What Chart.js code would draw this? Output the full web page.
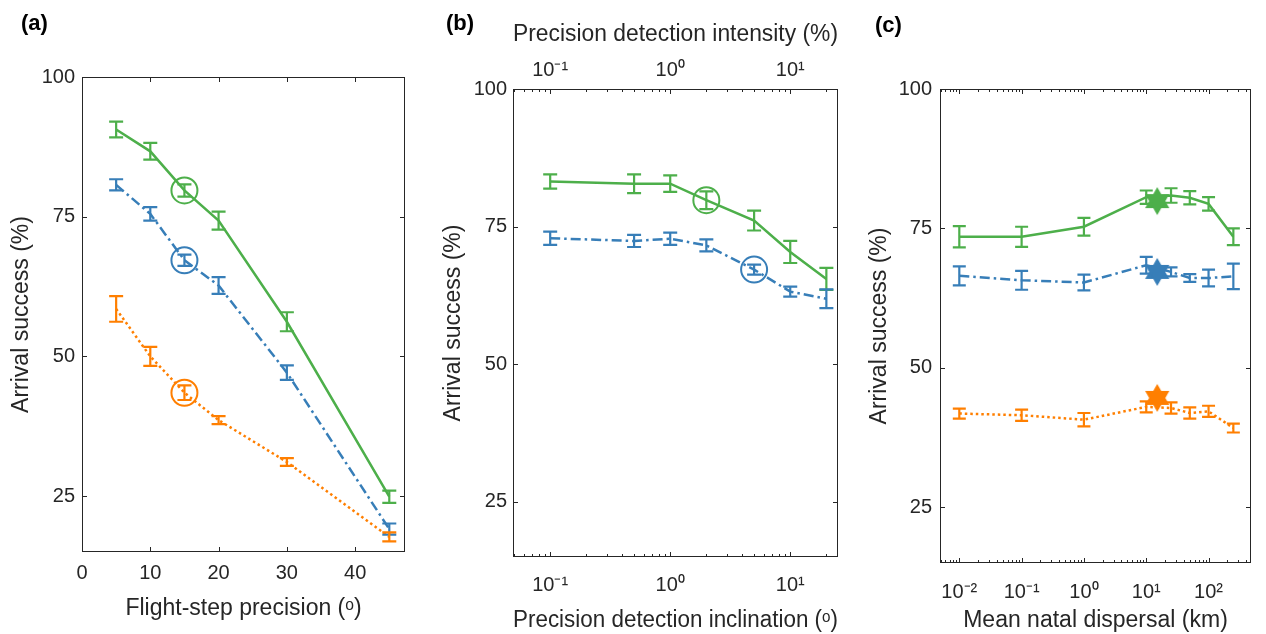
<!DOCTYPE html>
<html>
<head>
<meta charset="utf-8">
<script src="https://cdn.jsdelivr.net/npm/chart.js@4.4.1/dist/chart.umd.min.js"></script>
<style>
  body { margin: 0; background: #fff; }
  #wrap { position: relative; width: 1266px; height: 634px; overflow: hidden; }
  canvas { position: absolute; top: 0; }
  .tag { position: absolute; font: bold 22px "Liberation Sans", Arial, sans-serif; line-height: 22px; color: #000; }
</style>
</head>
<body>
<div id="wrap">
  <canvas id="chartA" width="420" height="634" style="left:0px"></canvas>
  <canvas id="chartB" width="430" height="634" style="left:425px"></canvas>
  <canvas id="chartC" width="406" height="634" style="left:860px"></canvas>
  <div class="tag" style="left:21px;top:12px">(a)</div>
  <div class="tag" style="left:446px;top:12px">(b)</div>
  <div class="tag" style="left:875px;top:14px">(c)</div>
</div>
<script>
// ---- (a) flight-step precision ----
const precA = [5, 10, 15, 20, 30, 45];
const greenA = [90.6, 86.7, 79.7, 74.3, 56.2, 24.9];
const greenErrA = [1.4, 1.5, 1.1, 1.6, 1.7, 1.1];
const blueA = [80.7, 75.5, 67.2, 62.7, 47.1, 19.1];
const blueErrA = [1.0, 1.2, 1.0, 1.5, 1.3, 1.0];
const orangeA = [58.5, 50.0, 43.5, 38.6, 31.1, 17.7];
const orangeErrA = [2.3, 1.7, 1.3, 0.7, 0.7, 0.8];
const circleIdxA = 2; // x = 15, circled default
const xTicksA = [0, 10, 20, 30, 40];

// ---- (b) precision detection inclination / intensity ----
const inclB = [0.1, 0.5, 1, 2, 5, 10, 20];
const greenB = [83.2, 82.8, 82.8, 79.8, 76.1, 70.4, 65.5];
const greenErrB = [1.3, 1.7, 1.5, 1.6, 1.8, 2.0, 2.0];
const blueB = [72.9, 72.4, 72.8, 71.6, 67.2, 63.2, 61.9];
const blueErrB = [1.2, 1.1, 1.1, 1.1, 0.9, 0.9, 1.7];
const circleGreenIdxB = 3; // x = 2
const circleBlueIdxB = 4;  // x = 5
const xTicksB = [0.1, 1, 10];
const xLabelsB = ['10⁻¹', '10⁰', '10¹'];

// ---- (c) mean natal dispersal ----
const dispC = [0.01, 0.1, 1, 10, 25, 50, 100, 250];
const greenC = [73.5, 73.5, 75.3, 80.6, 80.9, 80.5, 79.4, 73.5];
const greenErrC = [1.9, 1.8, 1.6, 1.2, 1.3, 1.2, 1.2, 1.5];
const blueC = [66.5, 65.7, 65.3, 68.4, 67.2, 66.1, 66.1, 66.4];
const blueErrC = [1.7, 1.7, 1.4, 1.5, 0.8, 0.7, 1.5, 2.3];
const orangeC = [41.8, 41.5, 40.7, 43.0, 42.8, 41.9, 42.2, 39.2];
const orangeErrC = [0.9, 1.0, 1.2, 1.0, 1.0, 1.0, 1.0, 0.8];
const starX = 15;
const starY = [79.9, 67.2, 44.6]; // green, blue, orange
const xTicksC = [0.01, 0.1, 1, 10, 100];
const xLabelsC = ['10⁻²', '10⁻¹', '10⁰', '10¹', '10²'];

const yTicks = [25, 50, 75, 100];

const GREEN = '#4DAF4A';
const BLUE = '#377EB8';
const ORANGE = '#FF7F00';
const INK = '#262626';
const TITLE_SIZE = 23;

Chart.defaults.font.family = '"Liberation Sans", Arial, sans-serif';
Chart.defaults.color = INK;

// error bars drawn from dataset.errors
const errorBars = {
  id: 'errorBars',
  afterDatasetsDraw(chart) {
    const { ctx } = chart;
    const xs = chart.scales.x, ys = chart.scales.y;
    const cap = chart.options.plugins.errorBars.cap;
    chart.data.datasets.forEach(ds => {
      if (!ds.errors) return;
      ctx.save();
      ctx.strokeStyle = ds.borderColor;
      ctx.lineWidth = 2.2;
      ctx.beginPath();
      ds.data.forEach((p, i) => {
        const px = xs.getPixelForValue(p.x);
        const top = ys.getPixelForValue(p.y + ds.errors[i]);
        const bot = ys.getPixelForValue(p.y - ds.errors[i]);
        ctx.moveTo(px, top); ctx.lineTo(px, bot);
        ctx.moveTo(px - cap, top); ctx.lineTo(px + cap, top);
        ctx.moveTo(px - cap, bot); ctx.lineTo(px + cap, bot);
      });
      ctx.stroke();
      ctx.restore();
    });
  }
};

// matlab style box with inward ticks on all sides
const frame = {
  id: 'frame',
  afterDraw(chart) {
    const { ctx, chartArea: a } = chart;
    const xs = chart.scales.x, ys = chart.scales.y;
    ctx.save();
    ctx.strokeStyle = INK;
    ctx.lineWidth = 1;
    ctx.strokeRect(Math.round(a.left) + 0.5, Math.round(a.top) + 0.5, Math.round(a.width) - 1, Math.round(a.height) - 1);
    ctx.beginPath();
    const vt = (v, len) => {
      const px = Math.round(xs.getPixelForValue(v)) + 0.5;
      ctx.moveTo(px, a.bottom); ctx.lineTo(px, a.bottom - len);
      ctx.moveTo(px, a.top); ctx.lineTo(px, a.top + len);
    };
    xs.ticks.forEach(t => vt(t.value, 5));
    ys.ticks.forEach(t => {
      const py = Math.round(ys.getPixelForValue(t.value)) + 0.5;
      ctx.moveTo(a.left, py); ctx.lineTo(a.left + 5, py);
      ctx.moveTo(a.right, py); ctx.lineTo(a.right - 5, py);
    });
    if (xs.type === 'logarithmic') {
      for (let e = Math.floor(Math.log10(xs.min)); e <= Math.ceil(Math.log10(xs.max)); e++) {
        for (let k = 2; k < 10; k++) {
          const v = k * Math.pow(10, e);
          if (v > xs.min && v < xs.max) vt(v, 3);
        }
      }
    }
    ctx.stroke();
    ctx.restore();
  }
};

function series(xs, ys, errs, color, dash) {
  return {
    data: xs.map((x, i) => ({ x: x, y: ys[i] })),
    errors: errs,
    borderColor: color,
    backgroundColor: color,
    borderWidth: 2.5,
    borderDash: dash,
    showLine: true,
    pointRadius: 0
  };
}

function ring(x, y, color) {
  return {
    data: [{ x: x, y: y }],
    pointStyle: 'circle',
    pointRadius: 13,
    pointBorderWidth: 2,
    pointBorderColor: color,
    pointBackgroundColor: 'rgba(0,0,0,0)',
    showLine: false
  };
}

function hexagram(color, r) {
  const c = document.createElement('canvas');
  c.width = c.height = 2 * r + 2;
  const g = c.getContext('2d');
  g.fillStyle = color;
  const m = r + 1;
  [[-90, 30, 150], [90, 210, 330]].forEach(tri => {
    g.beginPath();
    tri.forEach((deg, i) => {
      const t = deg * Math.PI / 180;
      const px = m + r * Math.cos(t), py = m + r * Math.sin(t);
      if (i) g.lineTo(px, py); else g.moveTo(px, py);
    });
    g.closePath();
    g.fill();
  });
  return c;
}

function star(x, y, color) {
  return {
    data: [{ x: x, y: y }],
    pointStyle: hexagram(color, 14),
    pointRadius: 14,
    showLine: false
  };
}

const DASHDOT = [10, 4, 2.5, 4];
const DOTTED = [2.5, 3];

function yAxis(width, tickPad, titlePad) {
  return {
    min: 15, max: 100,
    afterBuildTicks: s => { s.ticks = yTicks.map(v => ({ value: v })); },
    afterFit: s => { s.width = width; },
    grid: { display: false, drawTicks: false },
    border: { display: false },
    ticks: { font: { size: 20 }, padding: tickPad },
    title: { display: true, text: 'Arrival success (%)', font: { size: TITLE_SIZE }, padding: { top: titlePad } }
  };
}

function logX(min, max, ticks, labels, height, tickPad, pos) {
  return {
    type: 'logarithmic', position: pos, min: min, max: max,
    afterBuildTicks: s => { s.ticks = ticks.map(v => ({ value: v })); },
    afterFit: s => { s.height = height; },
    grid: { display: false, drawTicks: false },
    border: { display: false },
    ticks: { font: { size: 20 }, padding: tickPad, maxRotation: 0, callback: v => labels[ticks.indexOf(v)] }
  };
}

function baseOptions(scales, padding, cap) {
  return {
    responsive: false,
    animation: false,
    events: [],
    layout: { padding: padding },
    scales: scales,
    plugins: { legend: { display: false }, tooltip: { enabled: false }, errorBars: { cap: cap } }
  };
}

// ---- panel (a) ----
new Chart(document.getElementById('chartA'), {
  type: 'scatter',
  data: {
    datasets: [
      ring(precA[circleIdxA], greenA[circleIdxA], GREEN),
      ring(precA[circleIdxA], blueA[circleIdxA], BLUE),
      ring(precA[circleIdxA], orangeA[circleIdxA], ORANGE),
      series(precA, greenA, greenErrA, GREEN, []),
      series(precA, blueA, blueErrA, BLUE, DASHDOT),
      series(precA, orangeA, orangeErrA, ORANGE, DOTTED)
    ]
  },
  options: baseOptions({
    x: {
      type: 'linear', min: 0, max: 47.3,
      afterBuildTicks: s => { s.ticks = xTicksA.map(v => ({ value: v })); },
      afterFit: s => { s.height = 82; },
      grid: { display: false, drawTicks: false },
      border: { display: false },
      ticks: { font: { size: 20 }, padding: 9, maxRotation: 0 },
      title: { display: true, text: 'Flight-step precision (ᵒ)', font: { size: TITLE_SIZE }, padding: { bottom: 12 } }
    },
    y: yAxis(82, 7, 8)
  }, { top: 77, right: 14, left: 0, bottom: 0 }, 7),
  plugins: [errorBars, frame]
});

// ---- panel (b) ----
const xB = logX(0.049, 25, xTicksB, xLabelsB, 77, 16, 'bottom');
xB.title = { display: true, text: 'Precision detection inclination (ᵒ)', font: { size: TITLE_SIZE }, padding: { bottom: 0 } };
const x2B = logX(0.049, 25, xTicksB, xLabelsB, 89, 7, 'top');
x2B.title = { display: true, text: 'Precision detection intensity (%)', font: { size: TITLE_SIZE }, padding: { top: 21 } };

new Chart(document.getElementById('chartB'), {
  type: 'scatter',
  data: {
    datasets: [
      ring(inclB[circleGreenIdxB], greenB[circleGreenIdxB], GREEN),
      ring(inclB[circleBlueIdxB], blueB[circleBlueIdxB], BLUE),
      series(inclB, greenB, greenErrB, GREEN, []),
      series(inclB, blueB, blueErrB, BLUE, DASHDOT)
    ]
  },
  options: baseOptions({ x: xB, x2: x2B, y: yAxis(88, 6, 15) }, { top: 0, right: 17, left: 0, bottom: 0 }, 7),
  plugins: [errorBars, frame]
});

// ---- panel (c) ----
const xC = logX(0.0049, 480, xTicksC, xLabelsC, 71, 17, 'bottom');
xC.title = { display: true, text: 'Mean natal dispersal (km)', font: { size: TITLE_SIZE }, padding: { bottom: 0 } };

new Chart(document.getElementById('chartC'), {
  type: 'scatter',
  data: {
    datasets: [
      star(starX, starY[0], GREEN),
      star(starX, starY[1], BLUE),
      star(starX, starY[2], ORANGE),
      series(dispC, greenC, greenErrC, GREEN, []),
      series(dispC, blueC, blueErrC, BLUE, DASHDOT),
      series(dispC, orangeC, orangeErrC, ORANGE, DOTTED)
    ]
  },
  options: baseOptions({ x: xC, y: yAxis(80, 8, 6) }, { top: 89, right: 3, left: 0, bottom: 0 }, 6.5),
  plugins: [errorBars, frame]
});
</script>
</body>
</html>
